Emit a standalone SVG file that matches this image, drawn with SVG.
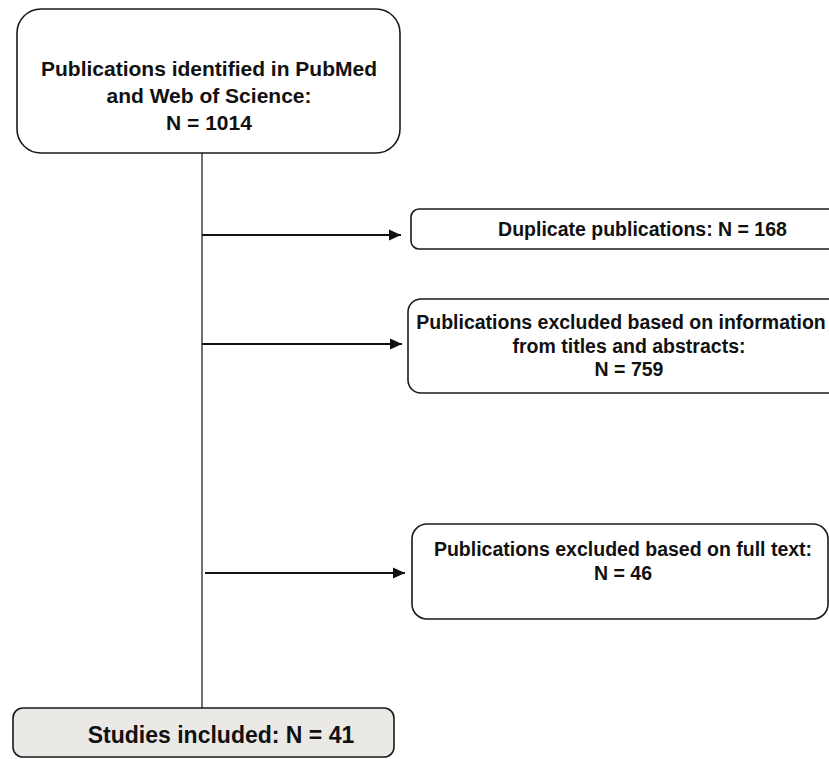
<svg xmlns="http://www.w3.org/2000/svg" width="829" height="759" viewBox="0 0 829 759">
<style>
.box{fill:#ffffff;stroke:#1a1a1a;stroke-width:1.6}
.final{fill:#ebe9e5;stroke:#1a1a1a;stroke-width:1.6}
.t{font-family:"Liberation Sans",Arial,Helvetica,sans-serif;font-weight:bold;fill:#111;text-anchor:middle}
.vline{stroke:#111;stroke-width:1.2;fill:none}
.arr{stroke:#111;stroke-width:2.2;fill:none;marker-end:url(#ah)}
</style>
<defs>
<marker id="ah" markerWidth="13" markerHeight="12" refX="12" refY="6" orient="auto" markerUnits="userSpaceOnUse">
<path d="M0,0.5 L12,6 L0,11.5 Z" fill="#111"/>
</marker>
</defs>
<rect width="829" height="759" fill="#ffffff"/>
<g id="connectors">
<line class="vline" x1="202" y1="153" x2="202" y2="708"/>
<line class="arr" x1="202" y1="235" x2="401" y2="235"/>
<line class="arr" x1="202" y1="344" x2="402" y2="344"/>
<line class="arr" x1="205" y1="573" x2="405" y2="573"/>
</g>
<g id="identified">
<rect class="box" x="17" y="9" width="383" height="144" rx="24" ry="24"/>
<text class="t" font-size="21" x="209" y="76">Publications identified in PubMed</text>
<text class="t" font-size="21" x="209" y="103">and Web of Science:</text>
<text class="t" font-size="21" x="209" y="130">N = 1014</text>
</g>
<g id="duplicates">
<rect class="box" x="411" y="209" width="440" height="40" rx="8" ry="8"/>
<text class="t" font-size="19.5" x="642.5" y="236">Duplicate publications: N = 168</text>
</g>
<g id="excluded-abstracts">
<rect class="box" x="408" y="299" width="440" height="94" rx="13" ry="13"/>
<text class="t" font-size="19.5" x="621" y="329">Publications excluded based on information</text>
<text class="t" font-size="19.5" x="629" y="353">from titles and abstracts:</text>
<text class="t" font-size="19.5" x="629" y="376">N = 759</text>
</g>
<g id="excluded-fulltext">
<rect class="box" x="412" y="524" width="416" height="95" rx="15" ry="15"/>
<text class="t" font-size="19.5" x="623" y="556">Publications excluded based on full text:</text>
<text class="t" font-size="19.5" x="623" y="580">N = 46</text>
</g>
<g id="included">
<rect class="final" x="13" y="708" width="381" height="49" rx="10" ry="10"/>
<text class="t" font-size="23" x="221" y="743">Studies included: N = 41</text>
</g>
</svg>
